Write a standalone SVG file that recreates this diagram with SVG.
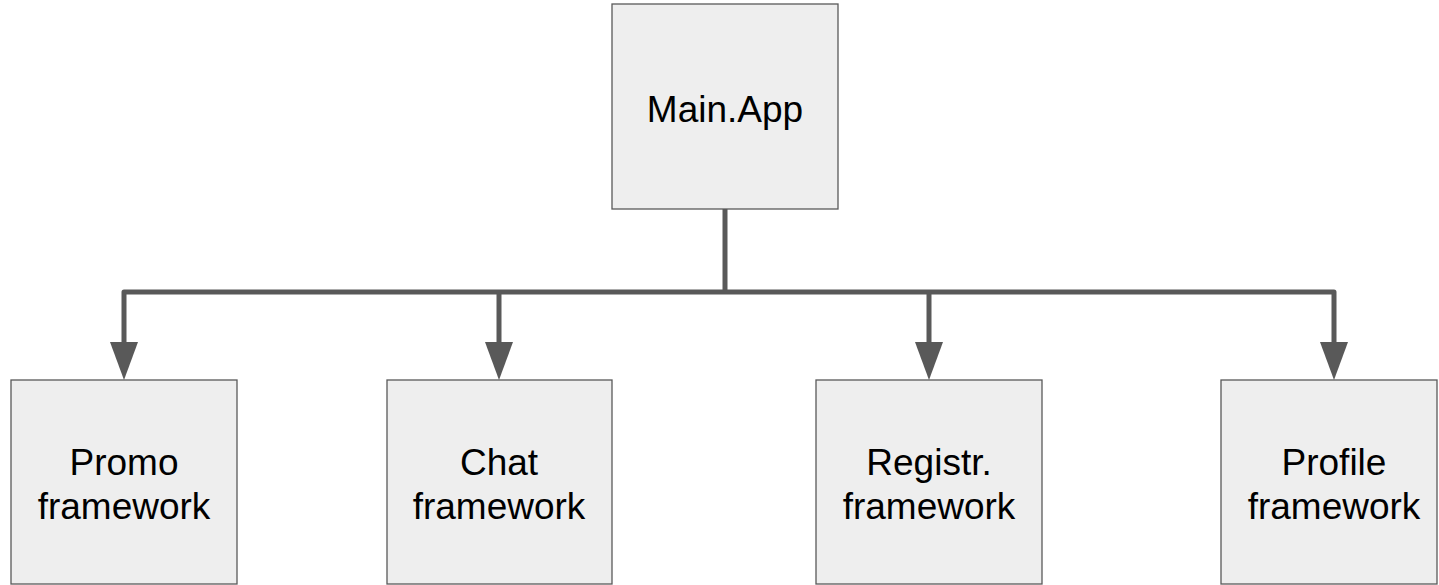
<svg xmlns="http://www.w3.org/2000/svg" width="1439" height="585" viewBox="0 0 1439 585">
<defs>
<style>
.box{fill:#eeeeee;stroke:#595959;stroke-width:1.3}
.t{font-family:"Liberation Sans",Arial,sans-serif;font-size:37px;fill:#000;text-anchor:middle}
.c{fill:none;stroke:#595959;stroke-width:5;stroke-linejoin:round}
.ah{fill:#595959}
</style>
</defs>
<rect width="1439" height="585" fill="#ffffff"/>
<g id="connectors">
<path class="c" d="M725 209V292"/>
<path class="c" d="M124 343V292H1334V343"/>
<path class="c" d="M499 292V343"/>
<path class="c" d="M929 292V343"/>
<polygon class="ah" points="110,342 138,342 124,380"/>
<polygon class="ah" points="485,342 513,342 499,380"/>
<polygon class="ah" points="915,342 943,342 929,380"/>
<polygon class="ah" points="1320,342 1348,342 1334,380"/>
</g>
<g id="main">
<rect class="box" x="612" y="4" width="226" height="205"/>
<text class="t" x="725" y="122">Main.App</text>
</g>
<g id="promo">
<rect class="box" x="11" y="380" width="226" height="204"/>
<text class="t" x="124" y="475">Promo</text>
<text class="t" x="124" y="519">framework</text>
</g>
<g id="chat">
<rect class="box" x="387" y="380" width="225" height="204"/>
<text class="t" x="499" y="475">Chat</text>
<text class="t" x="499" y="519">framework</text>
</g>
<g id="registr">
<rect class="box" x="816" y="380" width="226" height="204"/>
<text class="t" x="929" y="475">Registr.</text>
<text class="t" x="929" y="519">framework</text>
</g>
<g id="profile">
<rect class="box" x="1221" y="380" width="216" height="204"/>
<text class="t" x="1334" y="475">Profile</text>
<text class="t" x="1334" y="519">framework</text>
</g>
</svg>
